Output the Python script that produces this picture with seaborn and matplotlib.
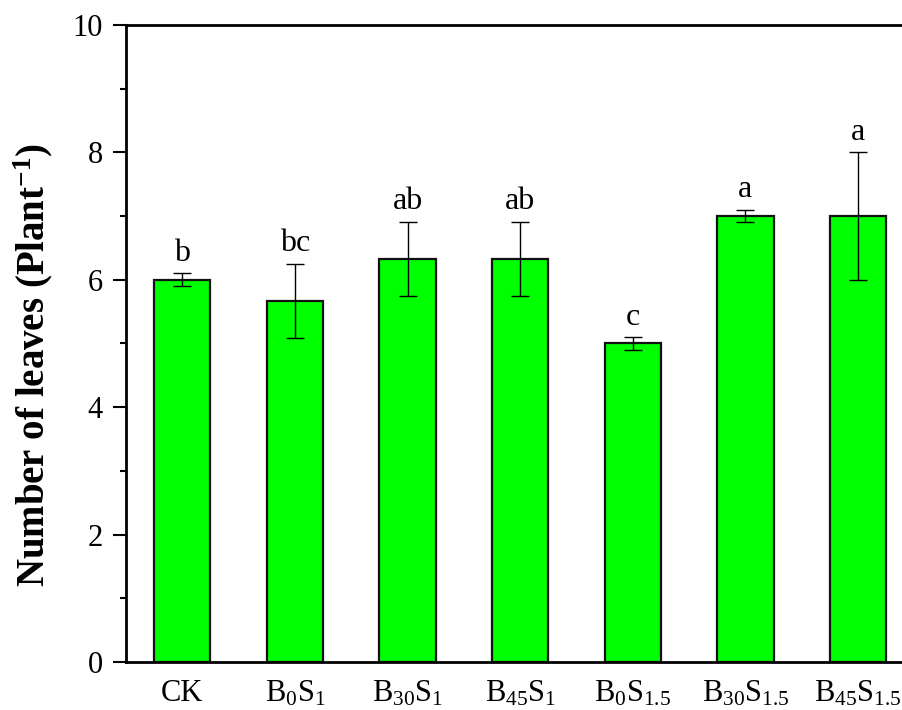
import numpy as np
import pandas as pd
import matplotlib
matplotlib.use('Agg')
import matplotlib.pyplot as plt
import seaborn as sns
from matplotlib.ticker import MultipleLocator

# data
treatments = ['CK', 'B0S1', 'B30S1', 'B45S1', 'B0S1.5', 'B30S1.5', 'B45S1.5']
tick_labels = ['CK', r'$\mathrm{B_{0}S_{1}}$', r'$\mathrm{B_{30}S_{1}}$', r'$\mathrm{B_{45}S_{1}}$',
               r'$\mathrm{B_{0}S_{1.5}}$', r'$\mathrm{B_{30}S_{1.5}}$', r'$\mathrm{B_{45}S_{1.5}}$']
leaves = [6.0, 5.67, 6.33, 6.33, 5.0, 7.0, 7.0]
errors = [0.1, 0.58, 0.58, 0.58, 0.1, 0.1, 1.0]
letters = ['b', 'bc', 'ab', 'ab', 'c', 'a', 'a']

df = pd.DataFrame({'Treatment': treatments, 'Leaves': leaves})

sns.set_style('ticks')
plt.rcParams['font.family'] = ['Liberation Serif', 'DejaVu Serif']
plt.rcParams['mathtext.fontset'] = 'custom'
plt.rcParams['mathtext.rm'] = 'Liberation Serif'
plt.rcParams['mathtext.it'] = 'Liberation Serif:italic'
plt.rcParams['mathtext.bf'] = 'Liberation Serif:bold'
plt.rcParams['text.color'] = 'black'
plt.rcParams['axes.labelcolor'] = 'black'
plt.rcParams['xtick.color'] = 'black'
plt.rcParams['ytick.color'] = 'black'

fig = plt.figure(figsize=(9.02, 7.10), dpi=100)
ax = fig.add_axes([0.1397, 0.0676, 0.874, 0.8972])

sns.barplot(data=df, x='Treatment', y='Leaves', color='#00ff00', saturation=1,
            width=0.5, edgecolor='#111111', linewidth=1.6, errorbar=None, ax=ax)
ax.errorbar(np.arange(len(leaves)), leaves, yerr=errors, fmt='none',
            ecolor='black', elinewidth=1, capsize=6.5, capthick=1)

# significance letters
for i, (v, e, t) in enumerate(zip(leaves, errors, letters)):
    ax.annotate(t, (i, v + e), xytext=(0, 4), textcoords='offset points',
                ha='center', va='bottom', fontsize=23, color='black')

ax.set_xlim(-0.5, 6.5)
ax.set_ylim(0, 10)
ax.yaxis.set_major_locator(MultipleLocator(2))
ax.yaxis.set_minor_locator(MultipleLocator(1))
ax.set_xticks(range(len(tick_labels)))
ax.set_xticklabels(tick_labels)
ax.tick_params(axis='x', length=0, pad=12, labelsize=22)
ax.tick_params(axis='y', which='major', length=9.5, width=1.5, pad=7, labelsize=22, direction='out')
ax.tick_params(axis='y', which='minor', length=4.5, width=1.5, direction='out')

for s in ['left', 'bottom', 'top']:
    ax.spines[s].set_linewidth(2)
    ax.spines[s].set_color('black')
ax.spines['right'].set_visible(False)

ax.set_xlabel('')
ax.set_ylabel(r'Number of leaves (Plant$^{\mathbf{-1}}$)', fontsize=28, fontweight='bold')
ax.yaxis.set_label_coords(-0.09, 0.467)

fig.savefig('out.png', dpi=100)
